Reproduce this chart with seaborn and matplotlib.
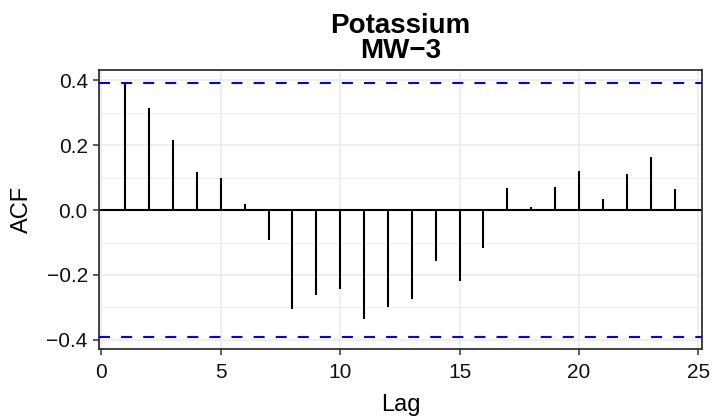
import matplotlib
matplotlib.use("Agg")
import matplotlib.pyplot as plt
from matplotlib.ticker import MultipleLocator
import seaborn as sns

# Sample autocorrelation of potassium at well MW-3
lags = [1, 2, 3, 4, 5, 6, 7, 8, 9, 10, 11, 12,
        13, 14, 15, 16, 17, 18, 19, 20, 21, 22, 23, 24]
acf = [0.390, 0.313, 0.215, 0.118, 0.099, 0.018, -0.092, -0.304, -0.263, -0.244, -0.334, -0.299,
       -0.273, -0.157, -0.217, -0.118, 0.069, 0.009, 0.070, 0.121, 0.034, 0.110, 0.164, 0.064]
conf_limit = 0.392
x_ticks = [0, 5, 10, 15, 20, 25]
y_ticks = [-0.4, -0.2, 0.0, 0.2, 0.4]

sns.set_theme(style="whitegrid")
plt.rcParams["font.family"] = ["Liberation Sans", "DejaVu Sans"]

fig = plt.figure(figsize=(7.12, 4.17), dpi=100)
ax = fig.add_axes([0.139, 0.163, 0.847, 0.669])
ax.set_facecolor("white")

# grid (major + minor on y)
ax.yaxis.set_minor_locator(MultipleLocator(0.1))
ax.grid(which="major", color="#EBEBEB", linewidth=1.1)
ax.grid(which="minor", axis="y", color="#EBEBEB", linewidth=0.6)
ax.set_axisbelow(True)

# zero line and lag spikes
ax.axhline(0, color="black", linewidth=1.5, zorder=2)
ax.vlines(lags, 0, acf, colors="black", linewidth=1.5, zorder=3)

# confidence bounds
for c in (conf_limit, -conf_limit):
    ax.axhline(c, color="#0000FF", linewidth=1.5, linestyle=(0, (5.3, 5.3)), zorder=4)

ax.set_xlim(-0.1, 25.15)
ax.set_ylim(-0.428, 0.431)
ax.set_xticks(x_ticks)
ax.set_yticks(y_ticks)
ax.set_xticklabels([str(t) for t in x_ticks])
ax.set_yticklabels(["\u22120.4", "\u22120.2", "0.0", "0.2", "0.4"])

for s in ax.spines.values():
    s.set_visible(True)
    s.set_color("#333333")
    s.set_linewidth(1.3)

ax.tick_params(axis="both", which="major", length=4, width=1.1, color="#333333",
               labelsize=15, labelcolor="#111111", left=True, bottom=True)
ax.tick_params(axis="x", pad=6)
ax.tick_params(axis="y", pad=4)
ax.tick_params(axis="y", which="minor", length=0)

ax.set_xlabel("Lag", fontsize=17, labelpad=9, color="black")
ax.set_ylabel("ACF", fontsize=17, labelpad=10, color="black")
ax.set_title("Potassium\nMW\u22123", fontsize=20, fontweight="bold", linespacing=0.95,
             pad=9, color="black")

fig.savefig("out.png", dpi=100, facecolor="white")
